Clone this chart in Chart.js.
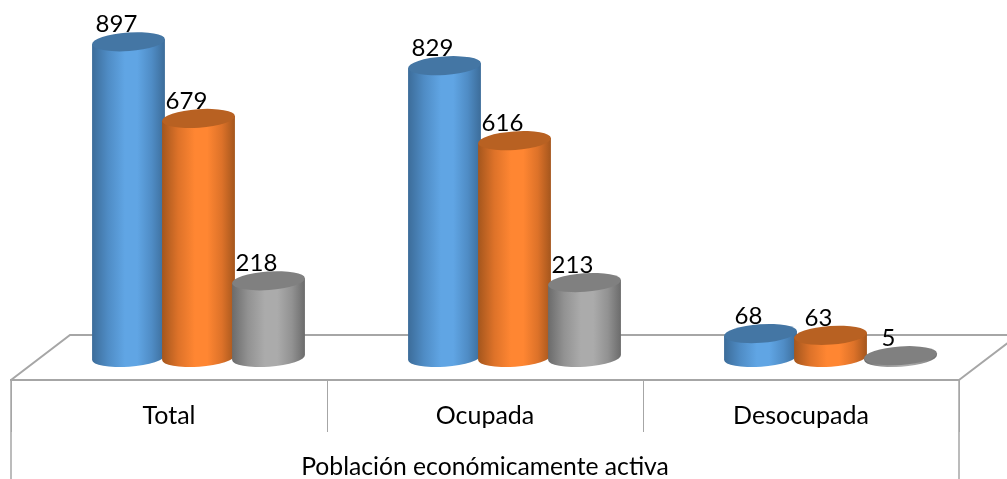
<!DOCTYPE html>
<html lang="es">
<head>
<meta charset="utf-8">
<title>Población económicamente activa</title>
<script src="https://cdn.jsdelivr.net/npm/chart.js@4"></script>
<style>
  html, body { margin: 0; padding: 0; background: #fff; }
  canvas { display: block; }
</style>
</head>
<body>
<canvas id="chartPea" width="1007" height="479"></canvas>
<script>
// Data
const categories = ['Total', 'Ocupada', 'Desocupada'];
const serieAzul = [897, 829, 68];
const serieNaranja = [679, 616, 63];
const serieGris = [218, 213, 5];
const axisTitle = 'Población económicamente activa';

// Colours: edge of the cylinder, halfway to the middle, middle, top cap
const AZUL = ['#3c6c99', '#4f8cc5', '#60a5e4', '#4476a4'];
const NARANJA = ['#a4561d', '#dd7229', '#ff8632', '#b86122'];
const GRIS = ['#6b6b6b', '#929292', '#ababab', '#808080'];
const LINE = '#a6a6a6';
const FONT = 'Lato, sans-serif';

// The floor of the 3D box, bars stand halfway back
const DEPTH_X = 59;
const DEPTH_Y = 45;
const TILT = -4 * Math.PI / 180;
const CAP_RY = 9.3;

function drawCylinder(ctx, el, colors) {
  const cx = el.x + DEPTH_X / 2;
  const top = el.y - DEPTH_Y / 2;
  const base = el.base - DEPTH_Y / 2;
  const rx = el.width / 2;
  const dx = rx * Math.cos(TILT);
  const dy = rx * Math.sin(TILT);

  const grad = ctx.createLinearGradient(cx - rx, 0, cx + rx, 0);
  grad.addColorStop(0, colors[0]);
  grad.addColorStop(0.22, colors[1]);
  grad.addColorStop(0.45, colors[2]);
  grad.addColorStop(0.62, colors[2]);
  grad.addColorStop(0.82, colors[1]);
  grad.addColorStop(1, colors[0]);

  ctx.beginPath();
  ctx.moveTo(cx - dx, top - dy);
  ctx.lineTo(cx - dx, base - dy);
  ctx.ellipse(cx, base, rx, CAP_RY, TILT, Math.PI, 0, true);
  ctx.lineTo(cx + dx, top + dy);
  ctx.closePath();
  ctx.fillStyle = grad;
  ctx.fill();

  ctx.beginPath();
  ctx.ellipse(cx, top, rx, CAP_RY, TILT, 0, Math.PI * 2);
  ctx.fillStyle = colors[3];
  ctx.fill();
}

const cylinders = {
  id: 'cylinders',
  beforeDatasetsDraw(chart) {
    const { ctx, chartArea } = chart;
    const { left, right, bottom } = chartArea;

    // floor edges, clipped by the canvas on the right
    ctx.save();
    ctx.strokeStyle = LINE;
    ctx.lineWidth = 2;
    ctx.beginPath();
    ctx.moveTo(left, bottom);
    ctx.lineTo(left + DEPTH_X, bottom - DEPTH_Y);
    ctx.lineTo(right + DEPTH_X, bottom - DEPTH_Y);
    ctx.lineTo(right, bottom);
    ctx.stroke();
    // outer separators reach down to the edge of the picture
    ctx.lineWidth = 1.5;
    ctx.beginPath();
    ctx.moveTo(left, bottom);
    ctx.lineTo(left, chart.height);
    ctx.moveTo(right, bottom);
    ctx.lineTo(right, chart.height);
    ctx.stroke();

    // datasets in order, so each bar overlaps the one on its left
    chart.data.datasets.forEach(function (ds, i) {
      chart.getDatasetMeta(i).data.forEach(function (el) {
        drawCylinder(ctx, el, ds.cylinderColors);
      });
    });

    // value labels sit up and left of each cylinder
    ctx.fillStyle = '#000';
    ctx.font = '24px ' + FONT;
    ctx.textAlign = 'center';
    ctx.textBaseline = 'middle';
    chart.data.datasets.forEach(function (ds, i) {
      chart.getDatasetMeta(i).data.forEach(function (el, j) {
        ctx.fillText(ds.data[j], el.x + DEPTH_X / 2 - 12, el.y - DEPTH_Y / 2 - 17);
      });
    });
    ctx.restore();
    return false;
  }
};

new Chart(document.getElementById('chartPea'), {
  type: 'bar',
  data: {
    labels: categories,
    datasets: [
      { data: serieAzul, backgroundColor: AZUL[2], cylinderColors: AZUL },
      { data: serieNaranja, backgroundColor: NARANJA[2], cylinderColors: NARANJA },
      { data: serieGris, backgroundColor: GRIS[2], cylinderColors: GRIS }
    ]
  },
  plugins: [cylinders],
  options: {
    responsive: false,
    animation: false,
    categoryPercentage: 0.6646,
    barPercentage: 1.043,
    layout: { padding: { left: 11, right: 48, top: 28, bottom: 0 } },
    plugins: {
      legend: { display: false },
      tooltip: { enabled: false }
    },
    scales: {
      x: {
        afterFit: function (scale) { scale.height = 99; },
        border: { color: LINE, width: 2 },
        grid: { drawOnChartArea: false, drawTicks: true, tickLength: 52, color: LINE, lineWidth: 1 },
        ticks: { color: '#000', maxRotation: 0, padding: -31, font: { family: FONT, size: 25 } },
        title: {
          display: true,
          text: axisTitle,
          color: '#000',
          font: { family: FONT, size: 24.7 },
          padding: { top: 0, bottom: -3 }
        }
      },
      y: { display: false, min: 0, max: 1000 }
    }
  }
});
</script>
</body>
</html>
